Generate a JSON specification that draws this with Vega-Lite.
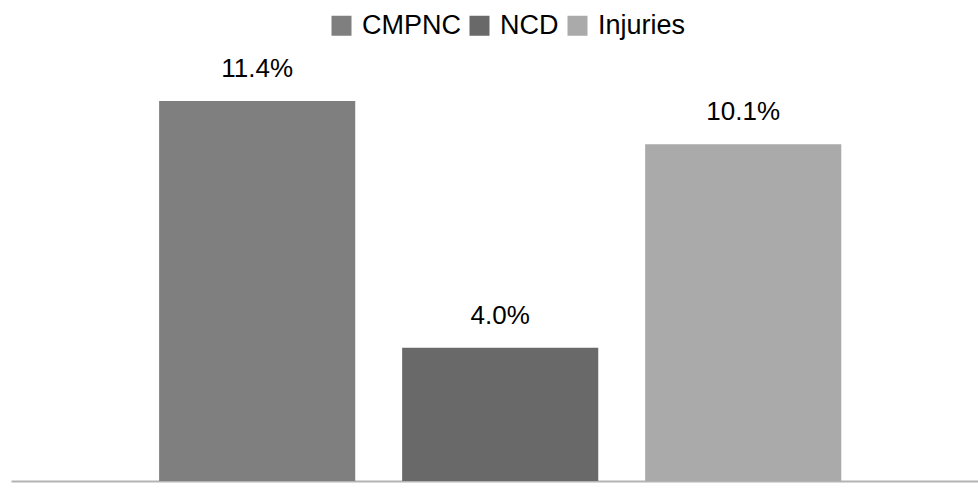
{
  "$schema": "https://vega.github.io/schema/vega-lite/v6.json",
  "width": 967,
  "height": 400,
  "autosize": {"type": "none"},
  "padding": {"left": 11, "top": 81, "right": 0, "bottom": 14},
  "background": "white",
  "config": {"view": {"stroke": null}, "font": "Liberation Sans"},
  "data": {"values": [
    {"cause": "CMPNC", "value": 11.4, "label": "11.4%"},
    {"cause": "NCD", "value": 4.0, "label": "4.0%"},
    {"cause": "Injuries", "value": 10.1, "label": "10.1%"}
  ]},
  "encoding": {
    "x": {"field": "cause", "type": "nominal", "sort": ["CMPNC", "NCD", "Injuries"],
      "scale": {"paddingInner": 0.193, "paddingOuter": 0.586, "align": 0.52},
      "axis": {"title": null, "labels": false, "ticks": false, "domainColor": "#b3b3b3", "domainWidth": 2}},
    "y": {"field": "value", "type": "quantitative", "scale": {"domain": [0, 12]}, "axis": null}
  },
  "layer": [
    {"mark": {"type": "bar"},
     "encoding": {"color": {"field": "cause", "type": "nominal",
        "sort": ["CMPNC", "NCD", "Injuries"],
        "scale": {"domain": ["CMPNC", "NCD", "Injuries"], "range": ["#7f7f7f", "#696969", "#aaaaaa"]},
        "legend": {"title": null, "orient": "none", "legendX": 317, "legendY": -69, "direction": "horizontal",
          "symbolType": "square", "symbolSize": 400, "symbolStrokeWidth": 0, "labelFontSize": 27, "labelColor": "#000000",
          "labelOffset": 7, "columnPadding": 5, "labelLimit": 300}}}},
    {"mark": {"type": "text", "fontSize": 26, "baseline": "alphabetic", "dy": -24, "color": "#000000"},
     "encoding": {"text": {"field": "label"}}}
  ]
}
